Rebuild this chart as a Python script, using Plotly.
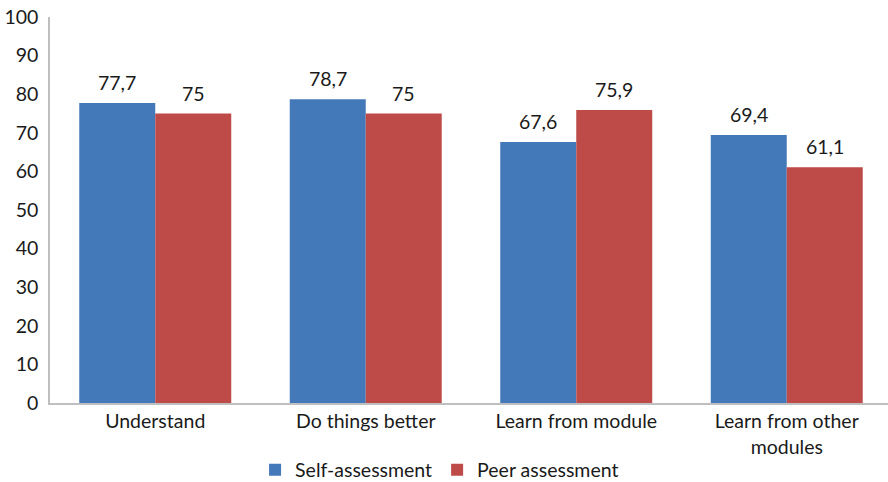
import plotly.graph_objects as go

categories = ["Understand", "Do things better", "Learn from module", "Learn from other<br>modules"]
self_vals = [77.7, 78.7, 67.6, 69.4]
peer_vals = [75, 75, 75.9, 61.1]
self_labels = ["77,7", "78,7", "67,6", "69,4"]
peer_labels = ["75", "75", "75,9", "61,1"]
y_ticks = [0, 10, 20, 30, 40, 50, 60, 70, 80, 90, 100]

BLUE = "#4479B9"
RED = "#BE4B48"
FONT = "Lato, 'Open Sans', sans-serif"
TXT = "#1a1a1a"
FS = 19.5

fig = go.Figure()
fig.add_trace(go.Bar(name="Self-assessment", x=categories, y=self_vals,
                     marker=dict(color=BLUE, line=dict(width=0))))
fig.add_trace(go.Bar(name="Peer assessment", x=categories, y=peer_vals,
                     marker=dict(color=RED, line=dict(width=0))))

for c, v, t in zip(categories, self_vals, self_labels):
    fig.add_annotation(x=c, y=v, text=t, xshift=-38, yshift=7, yanchor="bottom",
                       showarrow=False, font=dict(size=FS, color=TXT, family=FONT))
for c, v, t in zip(categories, peer_vals, peer_labels):
    fig.add_annotation(x=c, y=v, text=t, xshift=38, yshift=7, yanchor="bottom",
                       showarrow=False, font=dict(size=FS, color=TXT, family=FONT))

fig.update_layout(
    width=888, height=482,
    margin=dict(l=50, r=0, t=17, b=79, autoexpand=False),
    paper_bgcolor="white", plot_bgcolor="white",
    barmode="group", bargap=0.278, bargroupgap=0,
    font=dict(family=FONT, size=FS, color=TXT),
    showlegend=True,
    legend=dict(orientation="h", xref="container", x=0.495, xanchor="center",
                yref="container", y=0.025, yanchor="middle",
                font=dict(size=FS, color=TXT, family=FONT), traceorder="normal",
                itemwidth=30),
    xaxis=dict(range=[-0.5, 3.481], showline=True, linecolor="#BFBFBF", linewidth=1.5,
               ticks="", showgrid=False, automargin=False,
               tickfont=dict(size=FS, color=TXT, family=FONT)),
    yaxis=dict(range=[0, 100], tickvals=y_ticks, showline=True, linecolor="#BFBFBF",
               linewidth=1.5, ticks="", showgrid=False, zeroline=False, automargin=False,
               ticklabelstandoff=6,
               tickfont=dict(size=FS, color=TXT, family=FONT)),
)

fig.write_html("out.html")
